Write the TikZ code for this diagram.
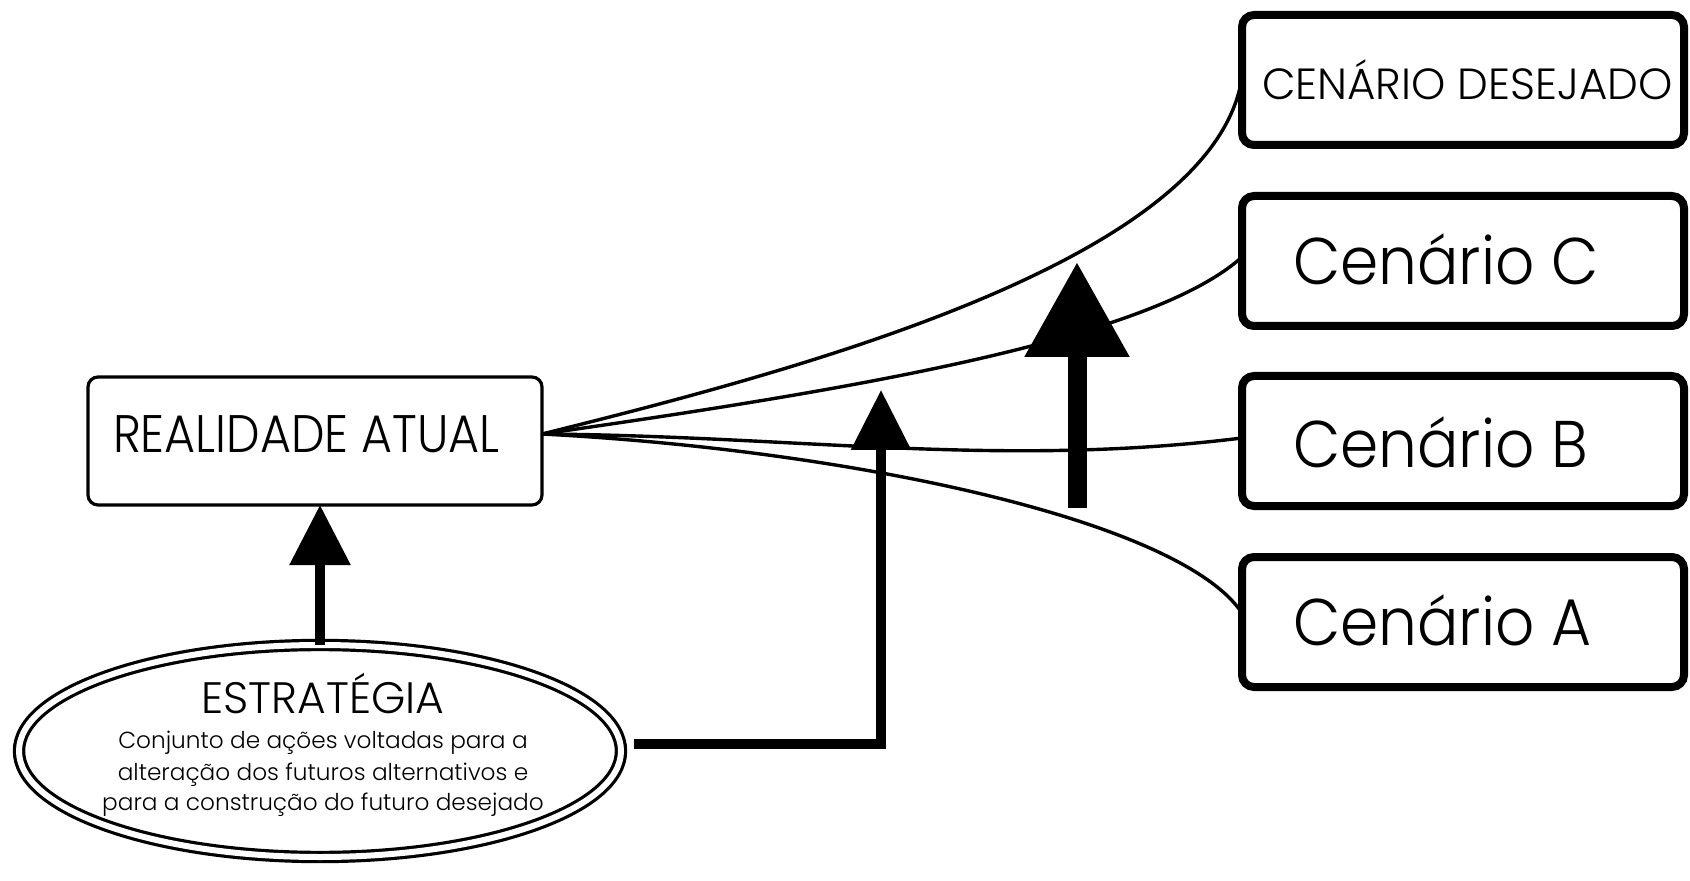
\documentclass[tikz,border=0pt]{standalone}
\usepackage{fontspec}
\setmainfont{Poppins Light}
\newfontfamily\gothic{Poppins Light}
\newfontfamily\gothicnarrow[FakeStretch=0.9]{Poppins Light}
\newfontfamily\gothicscen[FakeStretch=0.93]{Poppins Light}
\usetikzlibrary{arrows.meta,calc,shapes.geometric}

\begin{document}
\begin{tikzpicture}[x=0.5pt,y=-0.5pt,
  scenbox/.style={draw, line width=4pt, rounded corners=6pt, minimum width=221pt,
    minimum height=65pt, inner sep=0pt, outer sep=0pt},
  realbox/.style={draw, line width=1.6pt, rounded corners=5pt, minimum width=227pt,
    minimum height=64pt, inner sep=0pt, outer sep=0pt},
  txt/.style={inner sep=0pt, outer sep=0pt, anchor=base west},
  scenlabel/.style={txt, font=\gothicscen\fontsize{33}{38}\selectfont},
  desc/.style={inner sep=0pt, outer sep=0pt, anchor=base, font=\gothic\fontsize{11.6}{15}\selectfont},
  branch/.style={line width=1.7pt},
  thinarrow/.style={line width=4.6pt, -{Triangle[length=30pt,width=29.5pt]}},
  bigarrow/.style={line width=9.5pt, -{Triangle[length=47.5pt,width=50pt]}}
]
\useasboundingbox (0,0) rectangle (1690,881);

% scenario boxes on the right
\node[scenbox] (des) at (1463,80) {};
\node[scenbox] (scC) at (1463,261) {};
\node[scenbox] (scB) at (1463,441) {};
\node[scenbox] (scA) at (1463,622) {};

\node[txt, font=\gothic\fontsize{21.8}{26}\selectfont] (desT) at (1262,100) {CENÁRIO DESEJADO};
\node[scenlabel] (scCT) at (1293,285) {Cenário C};
\node[scenlabel] (scBT) at (1293,467) {Cenário B};
\node[scenlabel] (scAT) at (1293,645) {Cenário A};

% current reality
\node[realbox] (ra) at (315,441) {};
\node[txt, font=\gothicnarrow\fontsize{26.4}{30}\selectfont] (raT) at (113,452) {REALIDADE ATUAL};

% strategy ellipse
\node[ellipse, draw, line width=1.6pt, double, double distance=3pt,
  minimum width=301pt, minimum height=106pt, inner sep=0pt, outer sep=0pt] (ell) at (320,751) {};
\node[inner sep=0pt, anchor=base, font=\gothic\fontsize{22}{26}\selectfont] (ellT) at (323,713) {ESTRATÉGIA};
\node[desc] (ellD1) at (323,748) {Conjunto de ações voltadas para a};
\node[desc] (ellD2) at (323,780) {alteração dos futuros alternativos e};
\node[desc] (ellD3) at (323,810) {para a construção do futuro desejado};

% branches from the current reality to each scenario
\coordinate (fork) at ($(ra.east)+(0,-7)$);
\draw[branch] (fork) .. controls (800,370) and (1215,260) .. ($(des.west)+(0,-3)$);
\draw[branch] (fork) .. controls (850,390) and (1150,340) .. ($(scC.west)+(0,-4)$);
\draw[branch] (fork) .. controls (800,436) and (1000,468) .. ($(scB.west)+(0,-3)$);
\draw[branch] (fork) .. controls (850,450) and (1180,520) .. ($(scA.west)+(0,-9)$);

% strategy acts on reality
\draw[thinarrow] (ell.north) -- (ell.north |- ra.south);

% strategy acts on the alternative futures
\coordinate (sfrom) at (634,744);
\coordinate (stip) at (881,390);
\draw[line width=4.6pt, -{Triangle[length=30pt,width=29pt]}] (sfrom) -| (stip);

% push towards the desired scenario
\coordinate (bbase) at (1077,508);
\coordinate (btip) at (1077,262);
\draw[bigarrow] (bbase) -- (btip);
\end{tikzpicture}
\end{document}
